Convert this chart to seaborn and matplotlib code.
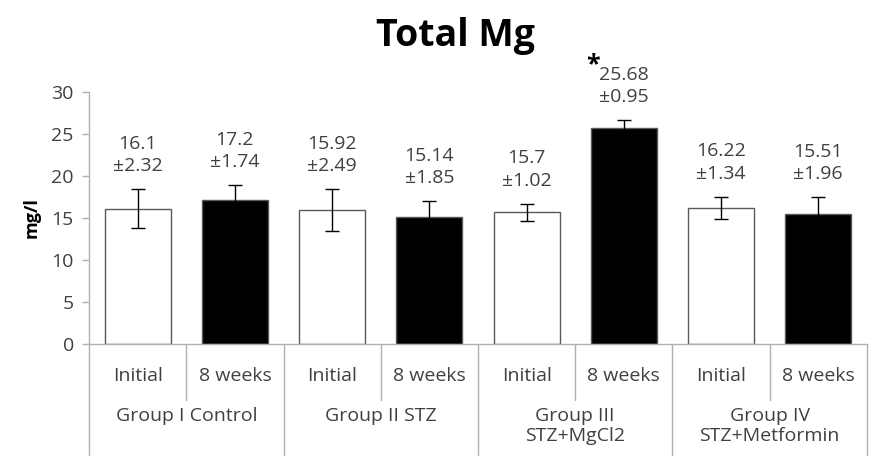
import numpy as np
import pandas as pd
import matplotlib
matplotlib.use("Agg")
import matplotlib.pyplot as plt
import matplotlib.transforms as mtransforms
import seaborn as sns

# values
groups = ["Group I Control", "Group II STZ", "Group III\nSTZ+MgCl2", "Group IV\nSTZ+Metformin"]
times = ["Initial", "8 weeks"]
means = [16.1, 17.2, 15.92, 15.14, 15.7, 25.68, 16.22, 15.51]
sds = [2.32, 1.74, 2.49, 1.85, 1.02, 0.95, 1.34, 1.96]
mean_labels = ["16.1", "17.2", "15.92", "15.14", "15.7", "25.68", "16.22", "15.51"]
significant = [False, False, False, False, False, True, False, False]

df = pd.DataFrame({
    "bar": [f"{g} {t}" for g in groups for t in times],
    "time": [t for g in groups for t in times],
    "mean": means,
})

sns.set_style("white")
plt.rcParams["font.family"] = ["Open Sans", "DejaVu Sans"]

grey_txt = "#404040"
grey_line = "#b0b0b0"
fs = 14

fig = plt.figure(figsize=(8.73, 4.59), dpi=100)
ax = fig.add_axes([0.102, 0.2505, 0.891, 0.549])

colors = ["white" if t == "Initial" else "black" for t in df["time"]]
sns.barplot(data=df, x="bar", y="mean", hue="bar", palette=colors, legend=False,
            width=0.68, edgecolor="#595959", linewidth=1, ax=ax, errorbar=None)

x = np.arange(len(means))
ax.errorbar(x, means, yerr=sds, fmt="none", ecolor="black", elinewidth=1,
            capsize=5, capthick=1, zorder=3)

# value labels
for i in range(len(means)):
    ax.annotate(f"{mean_labels[i]}\n±{sds[i]:.2f}",
                xy=(i, means[i] + sds[i]), xytext=(0, 10), textcoords="offset points",
                ha="center", va="bottom", fontsize=fs, color=grey_txt,
                linespacing=1.3)
    if significant[i]:
        ax.annotate("*", xy=(i, means[i] + sds[i]), xytext=(-22, 31),
                    textcoords="offset points", ha="center", va="bottom",
                    fontsize=18, fontweight="bold", color="black")

ax.set_xlim(-0.5, 7.5)
ax.set_ylim(0, 30)
ax.set_yticks([0, 5, 10, 15, 20, 25, 30])
ax.tick_params(axis="y", left=True, length=5, width=1, color=grey_line,
               labelsize=fs, labelcolor=grey_txt, pad=6)
ax.set_xticks([])
ax.set_xlabel("")
ax.set_ylabel("mg/l", fontsize=13, fontweight="bold", color="black", labelpad=8)

for s in ["top", "right"]:
    ax.spines[s].set_visible(False)
for s in ["left", "bottom"]:
    ax.spines[s].set_color(grey_line)
    ax.spines[s].set_linewidth(1)

# two-level category axis
trans = mtransforms.blended_transform_factory(ax.transData, ax.transAxes)
for i in range(len(means)):
    ax.text(i, -0.125, times[i % 2], transform=trans, ha="center", va="center",
            fontsize=fs, color=grey_txt)
for j, g in enumerate(groups):
    ax.text(2 * j + 0.5, -0.25, g, transform=trans, ha="center", va="top",
            fontsize=fs, color=grey_txt, linespacing=1.15)
for b in [-0.5, 1.5, 3.5, 5.5, 7.5]:
    ax.plot([b, b], [0, -0.44], transform=trans, color=grey_line, lw=1, clip_on=False)
for b in [0.5, 2.5, 4.5, 6.5]:
    ax.plot([b, b], [0, -0.222], transform=trans, color=grey_line, lw=1, clip_on=False)

fig.text(0.522, 0.922, "Total Mg", ha="center", va="center", fontsize=27,
         fontweight="bold", color="black")

fig.savefig("out.png", dpi=100)
